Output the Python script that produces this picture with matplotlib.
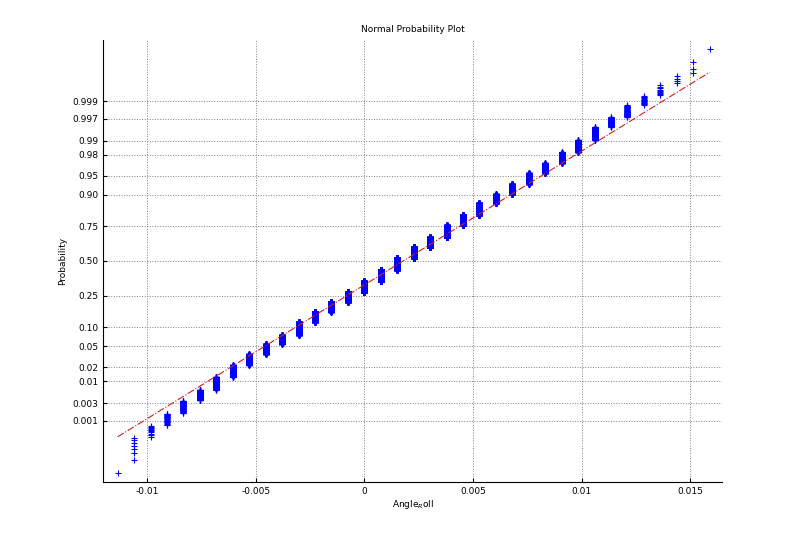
import matplotlib
matplotlib.use("Agg")
import matplotlib.pyplot as plt
import numpy as np
from statistics import NormalDist

# distinct measured values (quantization step) and normal quantile at top of each column
step = 0.000757
levels = np.arange(-15, 22)
z_tops = [-4.11, -3.44, -3.20, -2.95, -2.70, -2.49, -2.24, -2.01, -1.80, -1.60,
          -1.43, -1.18, -0.98, -0.79, -0.60, -0.39, -0.17, 0.06, 0.27, 0.46,
          0.69, 0.89, 1.12, 1.29, 1.49, 1.70, 1.89, 2.10, 2.34, 2.59, 2.78,
          3.01, 3.20, 3.40, 3.57, 3.84, 4.13]
N = 25000
# fitted reference line: normal quantile at min and max of the data
line_z = [-3.40, 3.65]

nd = NormalDist()
cum = [int(round(nd.cdf(z) * N + 0.5)) for z in z_tops]
cum[-1] = N
counts = np.diff([0] + cum)
data = np.repeat(levels * step, counts)
data = np.sort(data)
n = len(data)
zq = np.array([nd.inv_cdf((i - 0.5) / n) for i in range(1, n + 1)])

xl = np.array([data.min(), data.max()])

fig = plt.figure(figsize=(8, 5.42), dpi=100)
ax = fig.add_axes([0.129, 0.111, 0.774, 0.815])
ax.plot(data, zq, '+', color='#0000ff', markersize=5, markeredgewidth=0.8)
ax.plot(xl, line_z, '-.', color='#d02020', linewidth=0.8)

probs = [0.001, 0.003, 0.01, 0.02, 0.05, 0.10, 0.25, 0.50, 0.75, 0.90, 0.95,
         0.98, 0.99, 0.997, 0.999]
plabels = ['0.001', '0.003', '0.01', '0.02', '0.05', '0.10', '0.25', '0.50',
           '0.75', '0.90', '0.95', '0.98', '0.99', '0.997', '0.999']
ax.set_yticks([nd.inv_cdf(p) for p in probs])
ax.set_yticklabels(plabels)
ax.set_ylim(-4.27, 4.27)
ax.set_xlim(-0.01202, 0.01648)
ax.set_xticks([-0.01, -0.005, 0, 0.005, 0.01, 0.015])
ax.set_xticklabels(['-0.01', '-0.005', '0', '0.005', '0.01', '0.015'])
ax.tick_params(direction='in', labelsize=6.5, length=3)
ax.grid(True, linestyle=':', color='#808080', linewidth=0.7)
ax.spines['top'].set_visible(False)
ax.spines['right'].set_visible(False)
ax.set_title('Normal Probability Plot', fontsize=6.5)
ax.set_xlabel('Angle$_R$oll', fontsize=6.5, labelpad=2)
ax.set_ylabel('Probability', fontsize=6.5)

fig.savefig('out.png', dpi=100)
